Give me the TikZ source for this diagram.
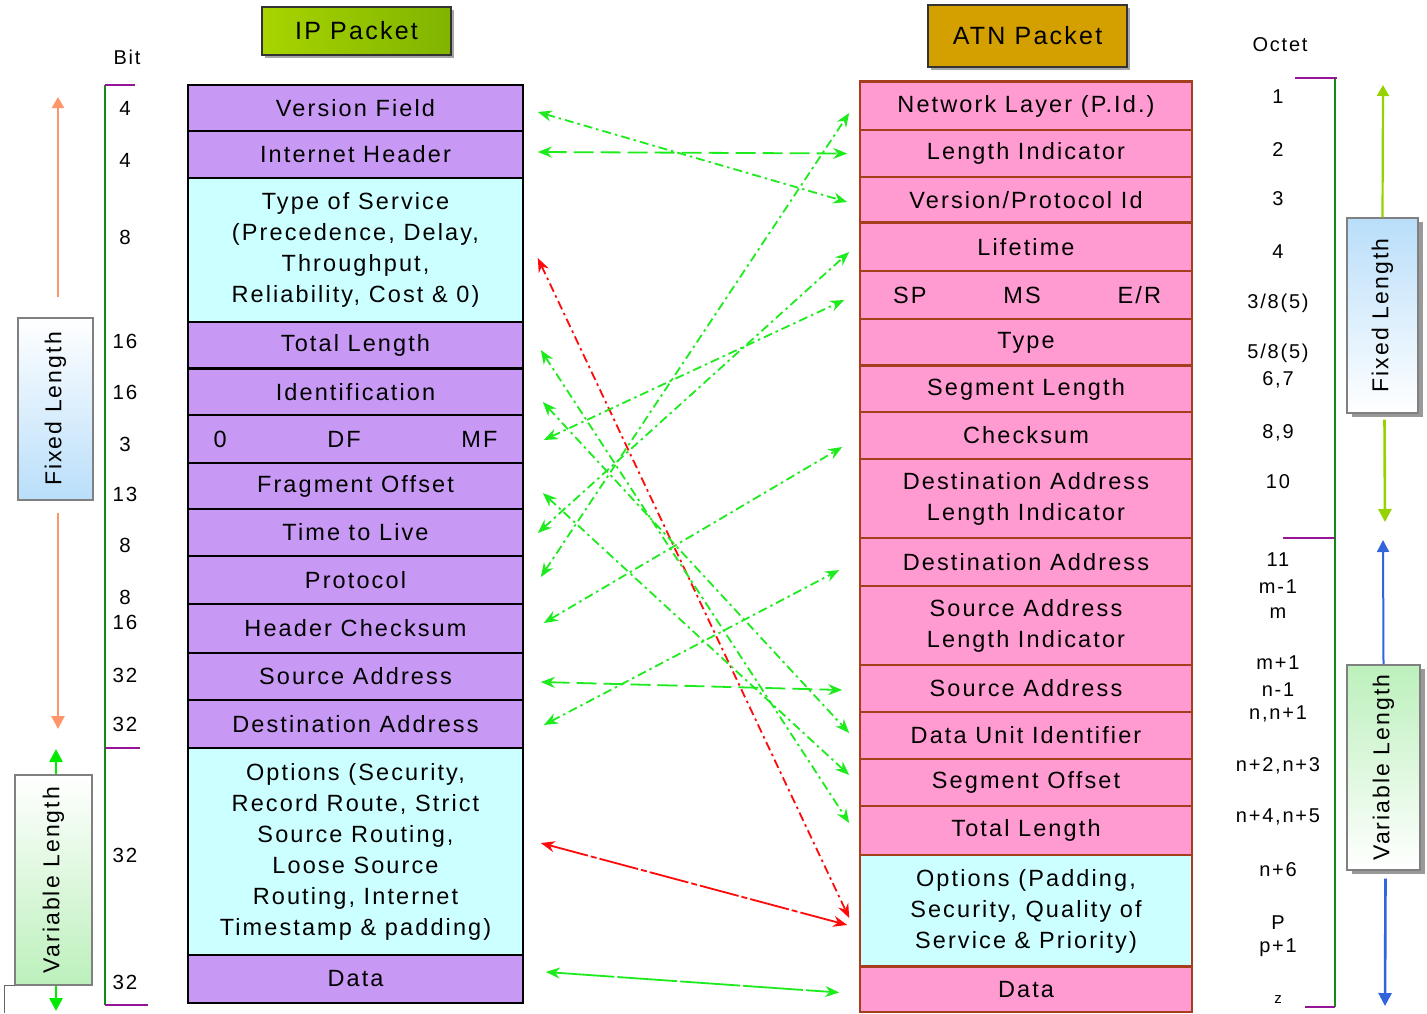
\documentclass[tikz,border=0pt]{standalone}
\usepackage{fontspec}
\setmainfont{Liberation Sans}
\newfontfamily\spacedfont{Liberation Sans}[LetterSpace=9]
\usetikzlibrary{arrows.meta,shadows}

\definecolor{ippurple}{RGB}{200,152,245}
\definecolor{ipcyan}{RGB}{204,255,255}
\definecolor{atnpink}{RGB}{255,155,208}
\definecolor{atnedge}{RGB}{165,62,28}
\definecolor{lnkgreen}{RGB}{30,235,30}
\definecolor{lnkred}{RGB}{255,10,10}
\definecolor{scalegreen}{RGB}{20,140,20}
\definecolor{scalepurple}{RGB}{150,20,150}
\definecolor{arrorange}{RGB}{255,150,105}
\definecolor{arrlime}{RGB}{150,210,0}
\definecolor{arrblue}{RGB}{50,100,220}
\definecolor{arrgreen}{RGB}{0,235,0}
\definecolor{hdrgreenA}{RGB}{168,212,0}
\definecolor{hdrgreenB}{RGB}{128,180,0}
\definecolor{hdrgold}{RGB}{212,160,0}
\definecolor{boxblue}{RGB}{185,222,250}
\definecolor{boxgreen}{RGB}{188,240,188}

\begin{document}
\begin{tikzpicture}[x=1pt,y=-1pt,
  rowfont/.style={font={\spacedfont\fontsize{23.5}{31}\selectfont}},
  iprow/.style={draw=black, line width=1.6pt, fill=ippurple, minimum width=335pt,
    inner sep=0pt, align=center, rowfont},
  ipcyrow/.style={iprow, fill=ipcyan},
  atnrow/.style={draw=atnedge, line width=1.6pt, fill=atnpink, minimum width=332pt,
    inner sep=0pt, align=center, rowfont},
  atncyrow/.style={atnrow, fill=ipcyan},
  hdr/.style={draw=black!80, line width=1.4pt, inner sep=0pt,
    font={\spacedfont\fontsize{25}{28}\selectfont},
    drop shadow={shadow xshift=2.5pt, shadow yshift=-2.5pt, fill=black!35, opacity=1}},
  sidebox/.style={draw=black!50, line width=1.4pt, rotate=90, inner sep=0pt,
    font={\spacedfont\fontsize{23}{28}\selectfont}},
  numlbl/.style={font={\spacedfont\fontsize{20.5}{22}\selectfont}, inner sep=0pt},
  octlbl/.style={font={\spacedfont\fontsize{20}{21}\selectfont}, inner sep=0pt},
  lnk/.style={draw=lnkgreen, line width=1.8pt, {Stealth[length=14pt,width=11pt]}-{Stealth[length=14pt,width=11pt]}},
  redlnk/.style={lnk, draw=lnkred},
  dotdash/.style={dash pattern=on 9pt off 4pt on 2.5pt off 4pt},
  longdash/.style={dash pattern=on 20pt off 7pt},
  sidearr/.style={line width=2.6pt, -{Triangle[length=13pt,width=13pt]}}
]
\useasboundingbox (0,0) rectangle (1427,1013);
\fill[white] (0,0) rectangle (1427,1013);

% ---------- headers ----------
\node[hdr, left color=hdrgreenA, right color=hdrgreenB, minimum width=189pt, minimum height=48pt]
  (hdrip) at (356.5,31) {IP Packet};
\node[hdr, fill=hdrgold, minimum width=199pt, minimum height=62pt]
  (hdratn) at (1027.5,36) {ATN Packet};

% ---------- IP packet ----------
\node[iprow, minimum height=46pt]  (ipVer)   at (355.5,108)   {Version Field};
\node[iprow, minimum height=47pt]  (ipIHL)   at (355.5,154.5) {Internet Header};
\node[ipcyrow, minimum height=144pt] (ipTOS) at (355.5,250)
  {Type of Service\\(Precedence, Delay,\\Throughput,\\Reliability, Cost \& 0)};
\node[iprow, minimum height=47pt]  (ipTL)    at (355.5,345.5) {Total Length};
\node[iprow, minimum height=46pt]  (ipId)    at (355.5,392)   {Identification};
\node[iprow, minimum height=48pt, text width=284pt, align=left] (ipFlags) at (355.5,439)
  {0\hfill DF\hfill MF\hspace*{6pt}};
\node[iprow, minimum height=46pt]  (ipFO)    at (355.5,486)   {Fragment Offset};
\node[iprow, minimum height=47pt]  (ipTTL)   at (355.5,532.5) {Time to Live};
\node[iprow, minimum height=48pt]  (ipProto) at (355.5,580)   {Protocol};
\node[iprow, minimum height=49pt]  (ipHC)    at (355.5,628.5) {Header Checksum};
\node[iprow, minimum height=47pt]  (ipSA)    at (355.5,676.5) {Source Address};
\node[iprow, minimum height=48pt]  (ipDA)    at (355.5,724)   {Destination Address};
\node[ipcyrow, minimum height=207pt] (ipOpt) at (355.5,851.5)
  {Options (Security,\\Record Route, Strict\\Source Routing,\\Loose Source\\Routing, Internet\\Timestamp \& padding)};
\node[iprow, minimum height=48pt]  (ipData)  at (355.5,979)   {Data};
\draw[line width=3pt] (ipId.north west) -- (ipId.north east);

% ---------- ATN packet ----------
\node[atnrow, minimum height=48pt] (atnNL)   at (1026,106)   {Network Layer (P.Id.)};
\node[atnrow, minimum height=47pt] (atnLI)   at (1026,153.5) {Length Indicator};
\node[atnrow, minimum height=46pt] (atnVPI)  at (1026,200)   {Version/Protocol Id};
\node[atnrow, minimum height=48pt] (atnLife) at (1026,247)   {Lifetime};
\node[atnrow, minimum height=48pt, text width=270pt, align=left] (atnSP) at (1026,295)
  {\hspace*{2pt}SP\hfill MS\hfill E/R};
\node[atnrow, minimum height=47pt] (atnType) at (1026,342.5) {Type};
\node[atnrow, minimum height=46pt] (atnSL)   at (1026,389)   {Segment Length};
\node[atnrow, minimum height=47pt] (atnCS)   at (1026,435.5) {Checksum};
\node[atnrow, minimum height=79pt] (atnDALI) at (1026,498.5) {Destination Address\\Length Indicator};
\node[atnrow, minimum height=48pt] (atnDA)   at (1026,562)   {Destination Address};
\node[atnrow, minimum height=79pt] (atnSALI) at (1026,625.5) {Source Address\\Length Indicator};
\node[atnrow, minimum height=47pt] (atnSA)   at (1026,688.5) {Source Address};
\node[atnrow, minimum height=47pt] (atnDUI)  at (1026,735.5) {Data Unit Identifier};
\node[atnrow, minimum height=47pt] (atnSO)   at (1026,782.5) {Segment Offset};
\node[atnrow, minimum height=49pt] (atnTL)   at (1026,830.5) {Total Length};
\node[atncyrow, minimum height=112pt] (atnOpt) at (1026,911)
  {Options (Padding,\\Security, Quality of\\Service \& Priority)};
\node[atnrow, minimum height=45pt] (atnData) at (1026,989.5) {Data};
\foreach \r in {atnNL,atnLife,atnSL,atnData}
  \draw[atnedge, line width=3.2pt] (\r.north west) -- (\r.north east);

% ---------- field mappings ----------
\draw[lnk, dotdash] ([xshift=14pt,yshift=-4pt]ipVer.east) -- ([xshift=-12pt,yshift=-2pt]atnVPI.west);
\draw[lnk, longdash] ([xshift=14pt,yshift=2.5pt]ipIHL.east) -- ([xshift=-12pt]atnLI.west);
\draw[redlnk, dotdash] ([xshift=14pt,yshift=-8pt]ipTOS.east) -- ([xshift=-10pt,yshift=-7pt]atnOpt.west);
\draw[lnk, dotdash] ([xshift=17pt,yshift=-4.5pt]ipTL.east) -- ([xshift=-10pt,yshift=7.5pt]atnTL.west);
\draw[lnk, dotdash] ([xshift=19pt,yshift=-10pt]ipId.east) -- ([xshift=-10pt,yshift=2.5pt]atnDUI.west);
\draw[lnk, dotdash] ([xshift=20pt,yshift=-1pt]ipFlags.east) -- ([xshift=-15pt,yshift=-5pt]atnSP.west);
\draw[lnk, dotdash] ([xshift=19pt,yshift=-7pt]ipFO.east) -- ([xshift=-10pt,yshift=7.5pt]atnSO.west);
\draw[lnk, dotdash] ([xshift=14pt,yshift=-0.5pt]ipTTL.east) -- ([xshift=-10pt,yshift=-5pt]atnLife.west);
\draw[lnk, dotdash] ([xshift=17pt,yshift=3pt]ipProto.east) -- ([xshift=-10pt,yshift=-7pt]atnNL.west);
\draw[lnk, dotdash] ([xshift=20pt,yshift=5.5pt]ipHC.east) -- ([xshift=-17pt,yshift=-11.5pt]atnCS.west);
\draw[lnk, longdash] ([xshift=17pt,yshift=-5.5pt]ipSA.east) -- ([xshift=-17pt,yshift=-1.5pt]atnSA.west);
\draw[lnk, dotdash] ([xshift=20pt,yshift=-1pt]ipDA.east) -- ([xshift=-20pt,yshift=-8pt]atnDA.west);
\draw[redlnk, dash pattern=on 40pt off 3pt on 6pt off 3pt] ([xshift=17pt,yshift=8.5pt]ipOpt.east) -- ([xshift=-12pt,yshift=-14pt]atnOpt.west);
\draw[lnk, dash pattern=on 60pt off 3pt] ([xshift=22pt,yshift=7pt]ipData.east) -- ([xshift=-20pt,yshift=-3pt]atnData.west);

% ---------- bit scale ----------
\node[octlbl] (bitlbl) at (127,57) {Bit};
\draw[scalegreen, line width=1.4pt] (105,85) -- (105,1005);
\draw[scalepurple, line width=1.4pt] (105,85) -- (135,85);
\draw[scalepurple, line width=1.4pt] (105,748) -- (140,748);
\draw[scalepurple, line width=1.4pt] (105,1005) -- (148,1005);
\foreach \y/\t [count=\i] in {108/4,160/4,237/8,341/16,392/16,444/3,494/13,545/8,597/8,622/16,675/32,724/32,855/32,982/32}
  \node[numlbl] (bit\i) at (125,\y) {\t};

% ---------- octet scale ----------
\node[octlbl] (octlbl) at (1280,45) {Octet};
\draw[scalegreen, line width=1.4pt] (1335,78) -- (1335,1007);
\draw[scalepurple, line width=1.4pt] (1295,78) -- (1337,78);
\draw[scalepurple, line width=1.4pt] (1283,538) -- (1335,538);
\draw[scalepurple, line width=1.4pt] (1305,1007) -- (1335,1007);
\foreach \y/\t [count=\i] in {97/1,150/2,199/3,252/4,303/{3/8(5)},353/{5/8(5)},380/{6,7},433/{8,9},482/10,560/11,587/m-1,613/m,663/m+1,690/n-1,714/{n,n+1},766/{n+2,n+3},817/{n+4,n+5},870/n+6,923/P,948/p+1}
  \node[octlbl] (oct\i) at (1278,\y) {\t};
\node[octlbl, font={\fontsize{15}{16}\selectfont}] (octz) at (1278,1000) {z};

% ---------- left length markers ----------
\node[sidebox, top color=white, bottom color=boxblue, minimum width=182pt, minimum height=75pt]
  (fixL) at (55.5,409) {Fixed Length};
\node[sidebox, top color=white, bottom color=boxgreen, minimum width=210pt, minimum height=77pt]
  (varL) at (53.5,880) {Variable Length};
\coordinate (fixLtop) at (58,97);
\coordinate (fixLbot) at (58,729);
\coordinate (varLtop) at (56,749);
\coordinate (varLbot) at (56,1011);
\draw[sidearr, arrorange, line width=2.2pt, -{Triangle[length=11pt,width=12pt]}] ([xshift=2.5pt,yshift=20pt]fixL.east) -- (fixLtop);
\draw[sidearr, arrorange] ([xshift=2.5pt,yshift=-12pt]fixL.west) -- (fixLbot);
\draw[sidearr, arrgreen] ([xshift=2.5pt]varL.east) -- (varLtop);
\draw[sidearr, arrgreen] ([xshift=2.5pt]varL.west) -- (varLbot);
\draw[black!60, line width=1pt] (15,985) -- (4,985) -- (4,1013);

% ---------- right length markers ----------
\node[sidebox, top color=boxblue, bottom color=white, minimum width=195pt, minimum height=71pt,
  drop shadow={shadow xshift=5pt, shadow yshift=-4pt, fill=black!40, opacity=1}]
  (fixR) at (1382.5,315.5) {Fixed Length};
\node[sidebox, top color=boxgreen, bottom color=white, minimum width=205pt, minimum height=73pt,
  drop shadow={shadow xshift=5pt, shadow yshift=-4pt, fill=black!40, opacity=1}]
  (varR) at (1383.5,767.5) {Variable Length};
\coordinate (fixRtop) at (1383,85);
\coordinate (fixRbot) at (1385,522);
\coordinate (varRtop) at (1383,540);
\coordinate (varRbot) at (1385,1006);
\draw[sidearr, arrlime, line width=2.2pt, -{Triangle[length=11pt,width=12pt]}] (fixR.east) -- (fixRtop);
\draw[sidearr, arrlime] ([xshift=2pt,yshift=-6pt]fixR.west) -- (fixRbot);
\draw[sidearr, arrblue, line width=2pt, -{Triangle[length=12pt,width=12pt]}] (varR.east) -- (varRtop);
\draw[sidearr, arrblue] ([xshift=2pt,yshift=-8pt]varR.west) -- (varRbot);
\end{tikzpicture}
\end{document}
